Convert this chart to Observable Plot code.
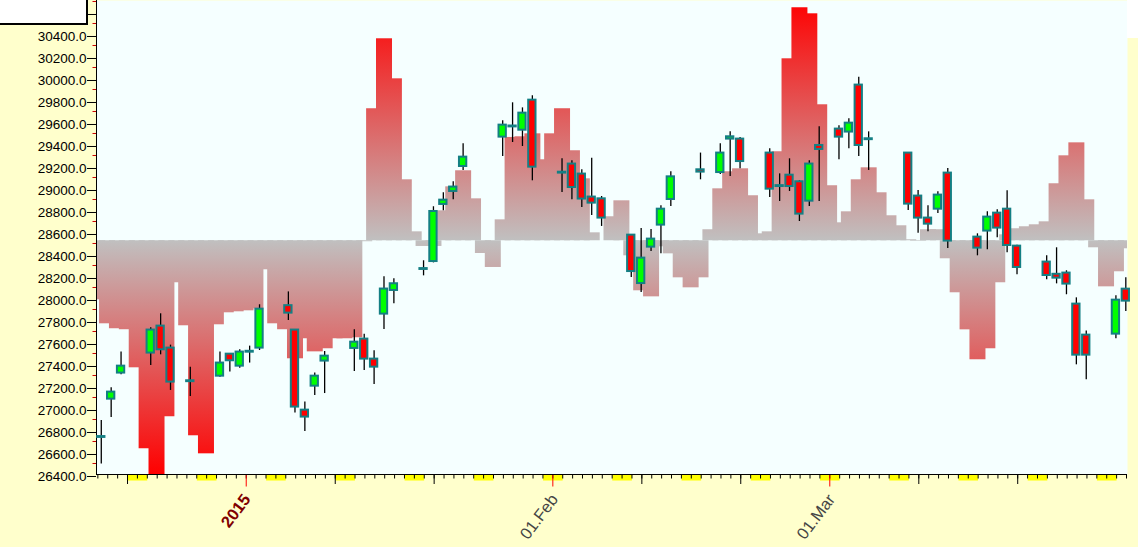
<!DOCTYPE html>
<html>
<head>
<meta charset="utf-8">
<script src="https://cdn.jsdelivr.net/npm/d3@7"></script>
<script src="https://cdn.jsdelivr.net/npm/@observablehq/plot@0.6"></script>
<style>
html, body { margin: 0; padding: 0; background: #ffffcc; }
#wrap { position: relative; width: 1138px; height: 547px; overflow: hidden; }
#box { position: absolute; left: 0; top: 0; width: 86px; height: 23px; background: #ffffff; border-right: 2px solid #000; border-bottom: 2px solid #000; }
#tr { position: absolute; left: 1127px; top: 0; width: 11px; height: 38px; background: #ffffff; }
</style>
</head>
<body>
<div id="wrap"><div id="box"></div><div id="tr"></div></div>
<script>
const DAY = 864e5;

// ---- candles (daily OHLC) ----
const candleDates = [
  "2014-12-17T10:00Z","2014-12-18T10:00Z","2014-12-19T10:00Z","2014-12-22T10:00Z","2014-12-23T10:00Z",
  "2014-12-24T10:00Z","2014-12-26T10:00Z","2014-12-29T10:00Z","2014-12-30T10:00Z","2014-12-31T10:00Z",
  "2015-01-01T10:00Z","2015-01-02T10:00Z","2015-01-05T08:00Z","2015-01-06","2015-01-07",
  "2015-01-08","2015-01-09","2015-01-12","2015-01-13","2015-01-14",
  "2015-01-15","2015-01-16","2015-01-19","2015-01-20","2015-01-21",
  "2015-01-22","2015-01-23","2015-01-27","2015-01-28","2015-01-29",
  "2015-01-30","2015-02-02","2015-02-03","2015-02-04","2015-02-05",
  "2015-02-06","2015-02-09","2015-02-10","2015-02-11","2015-02-12",
  "2015-02-13","2015-02-16","2015-02-18","2015-02-19","2015-02-20",
  "2015-02-23","2015-02-24","2015-02-25","2015-02-26","2015-02-27",
  "2015-02-28","2015-03-02","2015-03-03","2015-03-04","2015-03-05",
  "2015-03-09","2015-03-10","2015-03-11","2015-03-12","2015-03-13",
  "2015-03-16","2015-03-17","2015-03-18","2015-03-19","2015-03-20",
  "2015-03-23","2015-03-24","2015-03-25","2015-03-26","2015-03-27",
  "2015-03-30","2015-03-31"
];
const openV = [
  26737,27085,27322,27504,27749, 27549,27244,27294,27494,27385,
  27512,27549,27935,27713,26985, 27203,27431,27546,27631,27449,
  27858,28073,28264,28336,28855, 28973,29200,29467,29560,29530,
  29803,29140,29222,29131,28922, 28906,28576,28136,28467,28667,
  28900,29170,29145,29449,29449, 29322,29018,29121,29061,28885,
  29391,29540,29513,29940,29444, 29322,28931,28731,28812,29140,
  28558,28613,28776,28812,28476, 28331,28220,28231,27949,27667,
  27676,28085
];
const highV = [
  26891,27188,27513,27734,27861, 27576,27376,27513,27494,27533,
  27567,27943,28060,27716,27058, 27322,27518,27716,27676,27524,
  28197,28179,28343,28834,28961, 29061,29406,29615,29779,29733,
  29843,29270,29252,29170,29276, 28927,28576,28636,28627,28843,
  29152,29322,29406,29515,29464, 29361,29133,29270,29070,29252,
  29561,29570,29633,30012,29515, 29322,28982,28843,28970,29182,
  28588,28788,28806,28979,28485, 28388,28461,28252,28006,27704,
  28024,28188
];
const lowV = [
  26495,26918,27306,27391,27488, 27164,27109,27285,27331,27367,
  27413,27527,27800,26958,26791, 27118,27136,27336,27345,27218,
  27718,27952,28206,28324,28797, 28897,29164,29291,29418,29382,
  29070,28964,28897,28827,28755, 28655,28191,28055,28427,28406,
  28836,29079,29127,29109,29179, 28918,28882,28973,28700,28836,
  28882,29261,29361,29291,29164, 28800,28594,28606,28773,28455,
  28388,28443,28552,28415,28215, 28170,28133,28034,27397,27261,
  27634,27882
];
const closeV = [
  26745,27149,27385,27713,27534, 27240,27252,27413,27434,27513,
  27520,27903,27867,27013,26922, 27294,27476,27603,27449,27376,
  28086,28134,28272,28791,28894, 29013,29285,29576,29568,29685,
  29194,29148,29009,28904,28867, 28731,28245,28367,28540,28812,
  29106,29149,29322,29470,29245, 28994,29026,29018,28767,29222,
  29355,29467,29594,29391,29452, 28858,28731,28676,28940,28522,
  28458,28740,28640,28482,28282, 28209,28185,28131,27485,27485,
  27985,27976
];

// ---- background indicator (one value per calendar day) ----
const indicatorStart = "2014-12-16";
const indicatorBase = 28525;
const indicatorV = [
  // Dec 16 - Dec 31
  27988,27770,27725,27716,27370,26634,26380,26925,28143,27752,26752,26588,27761,27870,27879,27888,
  // Jan 1 - Jan 31
  27906,28261,27770,27716,27452,27634,27515,27543,27634,27634,27643,28516,29725,30361,29997,29079,
  28606,28473,28473,28797,29015,29161,28906,28409,28282,28715,29464,29470,29497,29261,29497,
  // Feb 1 - Feb 28
  29725,29343,29088,28597,28525,28743,28888,28388,28070,28015,28470,28406,28188,28097,28188,28625,
  28997,29152,29179,28934,28588,28606,29334,30179,30643,30588,29761,29025,
  // Mar 1 - Mar 30
  28688,28788,29079,29188,28961,28752,28661,28534,28520,28625,28625,28361,28052,27715,27443,27543,
  28143,28579,28634,28652,28670,28697,29043,29297,29415,28897,28461,28106,28243,28452
];

// ---- axis labels ----
const yTickValues = d3.range(26400, 30601, 200);
const yMinorValues = d3.range(26500, 30701, 200);
const monthDates = ["2015-01-01", "2015-02-01", "2015-03-01"];
const monthLabels = ["2015", "01.Feb", "01.Mar"];

// ---- tables ----
const candles = candleDates.map((d, i) => ({
  date: new Date(d), o: openV[i], h: highV[i], l: lowV[i], c: closeV[i]
}));
const t0 = new Date(indicatorStart + "T00:00Z");
const bars = indicatorV.map((v, i) => ({date: d3.utcDay.offset(t0, i), v}));

const xStart = new Date(Date.UTC(2014, 11, 17) - 0.137 * DAY);
const xEnd = new Date(Date.UTC(2015, 2, 31) + 0.1 * DAY);
const allDays = d3.utcDays(new Date(Date.UTC(2014, 11, 17)), new Date(Date.UTC(2015, 3, 1)));
const sundays = allDays.filter(d => d.getUTCDay() === 0);
const tenDays = allDays.filter(d => d.getUTCDate() === 10 || d.getUTCDate() === 20);
const months = monthDates.map(d => new Date(d + "T00:00Z"));

const yDomain = [26400, 30709];

const chart = Plot.plot({
  width: 1138,
  height: 547,
  marginLeft: 96,
  marginRight: 11,
  marginTop: 0,
  marginBottom: 73,
  style: {background: "#ffffcc", fontFamily: "'Liberation Sans', Arial, sans-serif", overflow: "visible"},
  x: {type: "utc", domain: [xStart, xEnd], axis: null, label: null},
  y: {domain: yDomain, axis: null, label: null},
  color: {type: "identity"},
  marks: [
    Plot.frame({fill: "#f5ffff", stroke: "none"}),
    Plot.rect(bars, {
      x1: d => new Date(+d.date + 0.172 * DAY),
      x2: d => new Date(+d.date + 1.79 * DAY),
      y1: () => indicatorBase,
      y2: "v",
      fill: "url(#bggrad)",
      clip: true
    }),
    // weekend markers under the axis
    Plot.axisX({ticks: sundays, tickSize: 6.5, stroke: "#ffff00", strokeWidth: 19.6, tickFormat: () => "", label: null}),
    Plot.axisX({ticks: allDays, tickSize: 4.5, stroke: "#000", tickFormat: () => "", label: null}),
    Plot.axisX({ticks: tenDays, tickSize: 10, stroke: "#000", tickFormat: () => "", label: null}),
    Plot.axisX({ticks: months, tickSize: 12.5, stroke: "#ff0000", tickFormat: () => "", label: null}),
    Plot.ruleY([yDomain[0]], {stroke: "#000"}),
    Plot.ruleX([xStart], {stroke: "#000"}),
    Plot.axisY({ticks: yMinorValues, tickSize: 3.5, stroke: "#cc0000", tickFormat: () => "", label: null}),
    Plot.axisY({ticks: yTickValues, tickSize: 9, tickPadding: 1, tickFormat: d => d.toFixed(1),
      fontSize: 13.5, color: "#000", dy: 2, label: null}),
    // month labels
    Plot.text([months[0]], {x: d => d, text: () => monthLabels[0], frameAnchor: "bottom",
      dy: 25, dx: 5, rotate: -53, textAnchor: "end", fontSize: 16.5, fontWeight: "bold", fill: "#800000"}),
    Plot.text(months.slice(1), {x: d => d, text: (d, i) => monthLabels[i + 1], frameAnchor: "bottom",
      dy: 25, dx: 6, rotate: -53, textAnchor: "end", fontSize: 16.5, fill: "#454545"}),
    // candles
    Plot.ruleX(candles, {x: "date", y1: "l", y2: "h", stroke: "#000", strokeWidth: 1.3, dx: -0.7}),
    Plot.rect(candles, {
      x1: d => new Date(+d.date - 0.37 * DAY),
      x2: d => new Date(+d.date + 0.37 * DAY),
      y1: "o", y2: "c",
      fill: d => d.c >= d.o ? "#00ff00" : "#ff0000",
      stroke: "#147f84", strokeWidth: 2, dx: -0.7
    })
  ]
});

// gradient for the indicator bars, fixed in screen space
const ys = d3.scaleLinear(yDomain, [474, 0]);
const yTop = ys(yDomain[1]), yBot = ys(yDomain[0]), yB = ys(indicatorBase);
const f = (yB - yTop) / (yBot - yTop);
const ns = "http://www.w3.org/2000/svg";
const defs = document.createElementNS(ns, "defs");
defs.innerHTML = `<linearGradient id="bggrad" gradientUnits="userSpaceOnUse" x1="0" x2="0" y1="${yTop}" y2="${yBot}">
<stop offset="0" stop-color="#ff0000"/><stop offset="${f}" stop-color="#c0c0c0"/><stop offset="1" stop-color="#ff0000"/></linearGradient>`;
chart.insertBefore(defs, chart.firstChild);

const wrap = document.getElementById("wrap");
wrap.insertBefore(chart, wrap.firstChild);
chart.style.position = "absolute";
chart.style.left = "0";
chart.style.top = "0";
</script>
</body>
</html>
